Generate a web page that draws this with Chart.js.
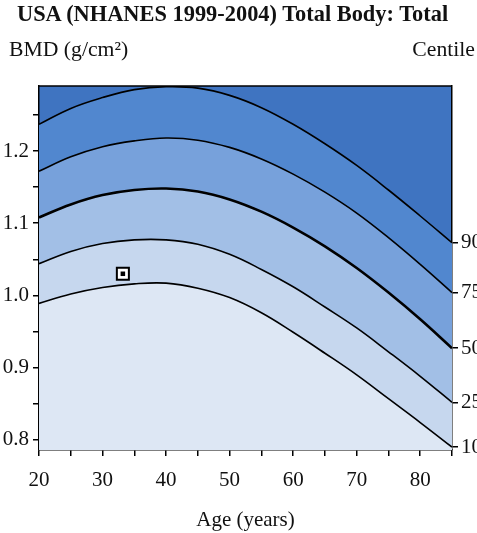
<!DOCTYPE html>
<html>
<head>
<meta charset="utf-8">
<script src="https://cdn.jsdelivr.net/npm/chart.js@4"></script>
<style>
  html, body { margin: 0; padding: 0; background: #fff; }
  #wrap { position: relative; width: 477px; height: 533px; overflow: hidden; }
  #chart { position: absolute; left: 0; top: 0; }
  .txt { position: absolute; font-family: "Liberation Serif", "DejaVu Serif", serif; color: #111; white-space: nowrap; }
  #title { left: 17px; top: 3px; font-size: 22.4px; line-height: 22px; font-weight: bold; }
  #ylab { left: 9px; top: 39px; font-size: 21.7px; line-height: 21px; }
  #clab { right: 2px; top: 39px; font-size: 21.7px; line-height: 21px; }
</style>
</head>
<body>
<div id="wrap">
  <canvas id="chart" width="477" height="533"></canvas>
  <div class="txt" id="title">USA (NHANES 1999-2004) Total Body: Total</div>
  <div class="txt" id="ylab">BMD (g/cm²)</div>
  <div class="txt" id="clab">Centile</div>
</div>
<script>
// Centile curves of total body BMD by age.
const AGES = [20, 25, 30, 35, 40, 45, 50, 55, 60, 65, 70, 75, 80, 85];
const P10 = [0.989, 1.002, 1.011, 1.016, 1.017, 1.010, 0.997, 0.976, 0.949, 0.920, 0.890, 0.857, 0.824, 0.790];
const P25 = [1.044, 1.061, 1.072, 1.077, 1.077, 1.071, 1.057, 1.036, 1.012, 0.984, 0.955, 0.922, 0.888, 0.852];
const P50 = [1.108, 1.126, 1.139, 1.146, 1.148, 1.144, 1.133, 1.116, 1.094, 1.068, 1.038, 1.004, 0.967, 0.927];
const P75 = [1.172, 1.192, 1.206, 1.214, 1.218, 1.215, 1.205, 1.189, 1.168, 1.143, 1.114, 1.080, 1.043, 1.004];
const P90 = [1.237, 1.259, 1.274, 1.285, 1.289, 1.287, 1.277, 1.260, 1.237, 1.210, 1.180, 1.146, 1.110, 1.073];
const CENTILES = ["10", "25", "50", "75", "90"];
const PATIENT = { age: 33.2, bmd: 1.030 };

const X_TICKS = [20, 25, 30, 35, 40, 45, 50, 55, 60, 65, 70, 75, 80, 85];
const Y_TICKS = [0.8, 0.85, 0.9, 0.95, 1.0, 1.05, 1.1, 1.15, 1.2, 1.25];

const SERIF = "Liberation Serif";
const BAND_TOP = "#3f74c1";
const BANDS = ["#dde7f4", "#c6d7ee", "#a2bfe6", "#77a1db", "#5187cf"];

const series = [P10, P25, P50, P75, P90];
const pts = (arr) => AGES.map((a, i) => ({ x: a, y: arr[i] }));

const frame = {
  id: "frame",
  beforeDraw(chart) {
    const { ctx, chartArea: a } = chart;
    ctx.save();
    ctx.fillStyle = BAND_TOP;
    ctx.fillRect(a.left, a.top, a.right - a.left, a.bottom - a.top);
    ctx.restore();
  },
  afterDraw(chart) {
    const { ctx, chartArea: a } = chart;
    ctx.save();
    ctx.strokeStyle = "#000";
    ctx.lineWidth = 1.5;
    ctx.beginPath();
    ctx.moveTo(a.left, a.top);
    ctx.lineTo(a.right, a.top);
    ctx.stroke();
    ctx.restore();
  },
};

const curveSets = series.map((arr, i) => ({
  type: "line",
  data: pts(arr),
  borderColor: "#000",
  borderWidth: i === 2 ? 2.6 : 1.6,
  backgroundColor: BANDS[i],
  fill: i === 0 ? "start" : "-1",
  pointRadius: 0,
  tension: 0.4,
  order: 5 - i,
}));

const tickFont = { family: SERIF, size: 21 };

new Chart(document.getElementById("chart"), {
  type: "line",
  data: {
    datasets: [
      ...curveSets,
      {
        type: "scatter",
        data: [{ x: PATIENT.age, y: PATIENT.bmd }],
        pointStyle: "rect",
        pointRadius: 8.5,
        backgroundColor: "#fff",
        borderColor: "#000",
        borderWidth: 2,
        order: 0,
      },
      {
        type: "scatter",
        data: [{ x: PATIENT.age, y: PATIENT.bmd }],
        pointStyle: "rect",
        pointRadius: 3.2,
        backgroundColor: "#000",
        borderColor: "#000",
        borderWidth: 0,
        order: -1,
      },
    ],
  },
  plugins: [frame],
  options: {
    responsive: false,
    devicePixelRatio: 1,
    animation: false,
    layout: { padding: { top: 86, left: 0, right: 0, bottom: 0 } },
    plugins: {
      legend: { display: false },
      tooltip: { enabled: false },
      filler: { propagate: false, drawTime: "beforeDatasetsDraw" },
    },
    scales: {
      x: {
        type: "linear",
        min: 20,
        max: 85,
        afterBuildTicks: (s) => { s.ticks = X_TICKS.map(v => ({ value: v })); },
        afterFit: (s) => { s.height = 83; },
        grid: { drawOnChartArea: false, drawTicks: true, tickLength: 6, color: "#000", lineWidth: 1.5 },
        border: { display: true, color: "#000", width: 1.5 },
        ticks: {
          color: "#111",
          font: tickFont,
          padding: 12,
          maxRotation: 0,
          autoSkip: false,
          callback: (v) => (v % 10 === 0 ? String(v) : ""),
        },
        title: {
          display: true,
          text: "Age (years)",
          color: "#111",
          font: { family: SERIF, size: 21 },
          padding: { top: 0, bottom: 0 },
        },
      },
      y: {
        type: "linear",
        position: "left",
        min: 0.786,
        max: 1.29,
        afterBuildTicks: (s) => { s.ticks = Y_TICKS.map(v => ({ value: v })); },
        afterFit: (s) => { s.width = 39; },
        grid: { drawOnChartArea: false, drawTicks: true, tickLength: 6, color: "#000", lineWidth: 1.5 },
        border: { display: true, color: "#000", width: 1.5 },
        ticks: {
          color: "#111",
          font: tickFont,
          padding: 4,
          autoSkip: false,
          callback: (v) => (Math.abs(v * 10 - Math.round(v * 10)) < 1e-6 ? v.toFixed(1) : ""),
        },
      },
      y2: {
        type: "linear",
        position: "right",
        min: 0.786,
        max: 1.29,
        afterBuildTicks: (s) => { s.ticks = series.map(arr => ({ value: arr[arr.length - 1] })); },
        afterFit: (s) => { s.width = 25; },
        grid: { drawOnChartArea: false, drawTicks: true, tickLength: 6, color: "#000", lineWidth: 1.5 },
        border: { display: true, color: "#000", width: 1.5 },
        ticks: {
          color: "#111",
          font: tickFont,
          padding: 3,
          autoSkip: false,
          callback: (v, i) => CENTILES[i],
        },
      },
    },
  },
});
</script>
</body>
</html>
